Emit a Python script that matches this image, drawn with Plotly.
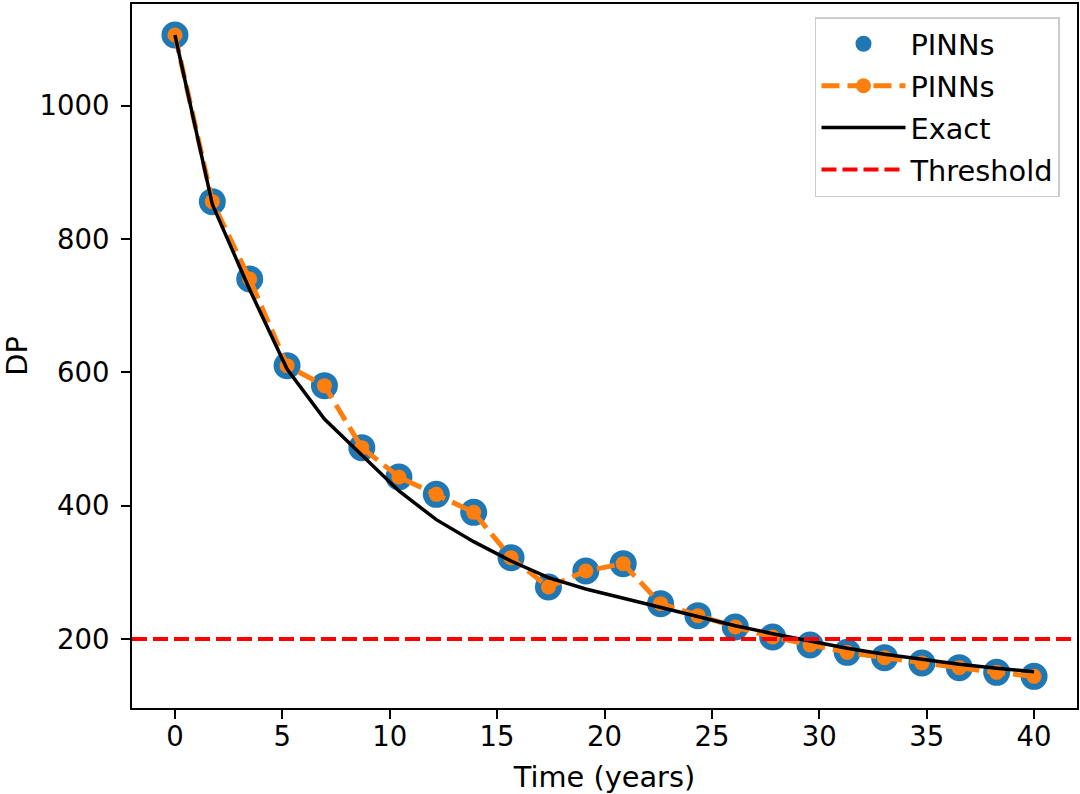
import plotly.graph_objects as go

# ---- data ----
time_years = [0.00, 1.74, 3.48, 5.22, 6.96, 8.70, 10.43, 12.17, 13.91, 15.65,
              17.39, 19.13, 20.87, 22.61, 24.35, 26.09, 27.83, 29.57, 31.30,
              33.04, 34.78, 36.52, 38.26, 40.00]
pinns_dp = [1106, 856, 740, 610, 580, 487, 443, 417, 390, 322,
            278, 302, 313, 253, 235, 218, 203, 191, 180,
            172, 164, 157, 150, 144]
exact_dp = [1106, 852, 724, 605, 530, 475, 422, 379, 346, 317,
            292, 275, 261, 247, 233, 220, 208, 197, 186,
            177, 169, 162, 156, 151]
threshold_dp = 200

x_range = [-2.0, 42.0]
y_range = [96.5, 1152.5]
x_ticks = [0, 5, 10, 15, 20, 25, 30, 35, 40]
y_ticks = [200, 400, 600, 800, 1000]

FONT = "DejaVu Sans"
FS_TICK = 27.5
FS_TEXT = 28.8

fig = go.Figure()
fig.add_trace(go.Scatter(
    x=time_years, y=pinns_dp, mode="markers", name="PINNs",
    marker=dict(color="#1f77b4", size=27, line=dict(width=0)),
    legendgroup="a"))
fig.add_trace(go.Scatter(
    x=time_years, y=pinns_dp, mode="lines+markers", name="PINNs",
    line=dict(color="#ff7f0e", width=5, dash="18px,8px"),
    marker=dict(color="#ff7f0e", size=15, line=dict(width=0)),
    legendgroup="b"))
fig.add_trace(go.Scatter(
    x=time_years, y=exact_dp, mode="lines", name="Exact",
    line=dict(color="black", width=3.5),
    legendgroup="c"))
fig.add_trace(go.Scatter(
    x=x_range, y=[threshold_dp, threshold_dp], mode="lines", name="Threshold",
    line=dict(color="red", width=4, dash="15px,6px"),
    legendgroup="d"))

axis_common = dict(
    showline=True, linecolor="black", linewidth=2, mirror=True,
    ticks="outside", ticklen=9, tickwidth=2, tickcolor="black",
    showgrid=False, zeroline=False, automargin=False,
    tickfont=dict(family=FONT, size=FS_TICK, color="black"),
)

fig.update_layout(
    width=1080, height=794,
    margin=dict(l=132, r=3, t=4, b=86),
    paper_bgcolor="white", plot_bgcolor="white",
    font=dict(family=FONT, size=FS_TEXT, color="black"),
    xaxis=dict(range=x_range, tickvals=x_ticks, ticklabelstandoff=-6,
               title=dict(text="Time (years)", font=dict(family=FONT, size=FS_TEXT), standoff=16),
               **axis_common),
    yaxis=dict(range=y_range, tickvals=y_ticks, ticklabelstandoff=6,
               title=dict(text="DP", font=dict(family=FONT, size=FS_TEXT), standoff=10),
               **axis_common),
    legend=dict(x=0.982, y=0.9815, xanchor="right", yanchor="top",
                bgcolor="rgba(255,255,255,0.8)", bordercolor="#cccccc", borderwidth=1.5,
                font=dict(family=FONT, size=FS_TEXT), tracegroupgap=1.5, itemwidth=84,
                traceorder="grouped"),
    showlegend=True,
)

fig.write_html("out.html", config={"displayModeBar": False},
               post_script="document.body.style.margin='0';")
